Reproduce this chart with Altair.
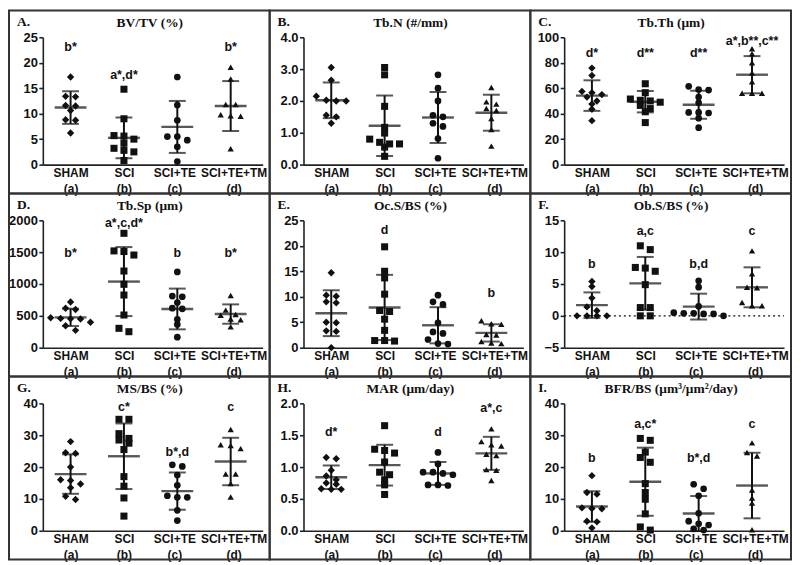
import json
import altair as alt
import pandas as pd

# ---------------- data ----------------
GROUPS = ["SHAM", "SCI", "SCI+TE", "SCI+TE+TM"]
TAGS = ["(a)", "(b)", "(c)", "(d)"]
SHAPES = ["diamond", "square", "circle", "triangle-up"]
SIZES = [55, 40, 42, 70]

# A. BV/TV (%)
A_sham = [17.2, 13.4, 13.3, 11.6, 11.5, 10.6, 8.8, 8.7, 6.2]
A_sci = [14.8, 9.0, 5.7, 5.6, 5.0, 4.2, 3.2, 2.8, 2.5, 0.8]
A_te = [17.2, 11.7, 8.7, 5.5, 5.5, 4.8, 3.5, 0.6]
A_tm = [19.1, 16.8, 11.8, 11.8, 9.8, 9.6, 9.5, 3.1]
A_mean = [11.2, 5.25, 7.4, 11.5]
A_sd = [3.2, 4.0, 5.1, 4.9]
A_sig = ["b*", "a*,d*", "", "b*"]
A_sig_y = [23.0, 17.5, 0, 23.0]

# B. Tb.N (#/mm)
B_sham = [3.05, 2.65, 2.15, 2.02, 2.0, 2.0, 1.55, 1.5, 1.3]
B_sci = [3.05, 2.82, 1.83, 1.17, 0.99, 0.8, 0.7, 0.65, 0.65, 0.55, 0.26]
B_te = [2.82, 2.4, 2.0, 1.55, 1.5, 1.3, 1.2, 0.82, 0.2]
B_tm = [2.42, 1.97, 1.9, 1.76, 1.7, 1.45, 1.1, 0.58]
B_mean = [2.02, 1.22, 1.48, 1.63]
B_sd = [0.56, 0.95, 0.8, 0.565]
B_sig = ["", "", "", ""]
B_sig_y = [0, 0, 0, 0]

# C. Tb.Th (um)
C_sham = [75.8, 70.0, 57.5, 56.5, 55.0, 53.0, 50.0, 47.5, 43.5, 34.5]
C_sci = [63.5, 56.5, 51.5, 50.5, 50.0, 49.0, 46.5, 44.0, 41.5, 33.0]
C_te = [61.5, 59.0, 58.5, 53.0, 48.5, 41.0, 41.0, 40.5, 36.5, 29.0]
C_tm = [91.0, 87.0, 80.0, 72.0, 65.0, 56.0, 56.0, 56.0]
C_mean = [54.2, 49.4, 47.0, 70.6]
C_sd = [12.0, 8.4, 11.0, 14.6]
C_sig = ["d*", "d**", "d**", "a*,b**,c**"]
C_sig_y = [88, 88, 88, 97]

# D. Tb.Sp (um)
D_sham = [717, 620, 600, 470, 460, 455, 450, 400, 345, 272]
D_sci = [1796, 1520, 1510, 1455, 1204, 995, 827, 513, 304, 251]
D_te = [1190, 810, 800, 710, 620, 610, 445, 365, 165]
D_tm = [820, 590, 520, 510, 450, 440, 330]
D_mean = [476, 1038, 608, 528]
D_sd = [136, 542, 320, 152]
D_sig = ["b*", "a*,c,d*", "b", "b*"]
D_sig_y = [1480, 1960, 1480, 1480]

# E. Oc.S/BS (%)
E_sham = [14.7, 10.3, 10.1, 9.0, 8.8, 5.0, 4.9, 3.3, 3.2, 0.0]
E_sci = [19.8, 15.0, 13.7, 10.5, 7.3, 7.1, 5.6, 3.4, 1.4, 1.4, 1.3]
E_te = [10.3, 9.0, 8.5, 4.9, 3.1, 2.8, 1.6, 0.8, 0.7]
E_tm = [5.3, 4.7, 4.6, 2.6, 2.5, 1.2, 0.9, 0.8]
E_mean = [6.77, 7.9, 4.4, 2.9]
E_sd = [4.5, 6.4, 3.55, 1.7]
E_sig = ["", "d", "", "b"]
E_sig_y = [0, 23.1, 0, 10.8]

# F. Ob.S/BS (%)
F_sham = [5.4, 4.6, 2.8, 1.4, 0.8, 0.0, 0.0, 0.0, 0.0]
F_sci = [11.0, 10.4, 7.6, 7.5, 7.0, 4.9, 1.3, 1.3, 0.0, 0.0]
F_te = [5.5, 4.5, 1.5, 0.5, 0.4, 0.4, 0.3, 0.3, 0.0]
F_tm = [10.2, 6.6, 4.5, 4.4, 2.1, 1.6, 1.6]
F_mean = [1.68, 5.1, 1.45, 4.48]
F_sd = [2.0, 4.15, 2.03, 3.14]
F_sig = ["b", "a,c", "b,d", "c"]
F_sig_y = [8.1, 13.3, 8.1, 13.3]

# G. MS/BS (%)
G_sham = [28.0, 24.5, 24.3, 20.0, 16.0, 15.8, 14.7, 13.5, 10.8, 9.8]
G_sci = [35.0, 35.0, 30.5, 29.0, 28.5, 27.5, 25.5, 17.0, 14.0, 10.3, 4.6]
G_te = [20.7, 20.2, 17.5, 14.3, 11.0, 10.5, 10.5, 6.4, 3.2]
G_tm = [31.8, 27.0, 26.8, 25.8, 17.8, 17.8, 14.8, 10.6]
G_mean = [17.8, 23.4, 12.45, 21.75]
G_sd = [6.2, 10.3, 5.85, 7.45]
G_sig = ["", "c*", "b*,d", "c"]
G_sig_y = [0, 39.0, 24.7, 39.0]

# H. MAR (um/day)
H_sham = [1.15, 1.13, 0.95, 0.86, 0.8, 0.75, 0.73, 0.66, 0.65, 0.65]
H_sci = [1.65, 1.28, 1.26, 1.22, 1.08, 0.92, 0.88, 0.8, 0.72, 0.57]
H_te = [1.23, 1.05, 0.92, 0.92, 0.9, 0.88, 0.72, 0.72, 0.71]
H_tm = [1.6, 1.4, 1.35, 1.33, 1.2, 1.18, 0.96, 0.95, 0.79]
H_mean = [0.84, 1.03, 0.9, 1.215]
H_sd = [0.185, 0.32, 0.18, 0.26]
H_sig = ["d*", "", "d", "a*,c"]
H_sig_y = [1.55, 0, 1.55, 1.92]

# I. BFR/BS (um3/um2/day)
I_sham = [17.3, 12.0, 11.5, 7.2, 7.0, 6.9, 3.0, 2.8, 0.9]
I_sci = [29.0, 28.4, 24.7, 23.0, 21.5, 14.8, 12.0, 9.9, 5.3, 1.2, 0.2]
I_te = [14.6, 13.2, 11.0, 5.5, 3.0, 2.2, 1.8, 0.6, 0.2]
I_tm = [27.6, 24.6, 23.5, 12.8, 10.3, 8.7, 0.3]
I_mean = [7.6, 15.4, 5.4, 14.2]
I_sd = [4.8, 10.7, 5.5, 10.3]
I_sig = ["b", "a,c*", "b*,d", "c"]
I_sig_y = [22.8, 33.4, 22.8, 33.4]

PANELS = [
    dict(tag="A.", title="BV/TV (%)", pts=[A_sham, A_sci, A_te, A_tm], mean=A_mean, sd=A_sd,
         sig=A_sig, sig_y=A_sig_y, dom=[0, 25], ticks=[0, 5, 10, 15, 20, 25], fmt="d"),
    dict(tag="B.", title="Tb.N (#/mm)", pts=[B_sham, B_sci, B_te, B_tm], mean=B_mean, sd=B_sd,
         sig=B_sig, sig_y=B_sig_y, dom=[0, 4], ticks=[0, 1, 2, 3, 4], fmt=".1f"),
    dict(tag="C.", title="Tb.Th (μm)", pts=[C_sham, C_sci, C_te, C_tm], mean=C_mean, sd=C_sd,
         sig=C_sig, sig_y=C_sig_y, dom=[0, 100], ticks=[0, 20, 40, 60, 80, 100], fmt="d"),
    dict(tag="D.", title="Tb.Sp (μm)", pts=[D_sham, D_sci, D_te, D_tm], mean=D_mean, sd=D_sd,
         sig=D_sig, sig_y=D_sig_y, dom=[0, 2000], ticks=[0, 500, 1000, 1500, 2000], fmt="d"),
    dict(tag="E.", title="Oc.S/BS (%)", pts=[E_sham, E_sci, E_te, E_tm], mean=E_mean, sd=E_sd,
         sig=E_sig, sig_y=E_sig_y, dom=[0, 25], ticks=[0, 5, 10, 15, 20, 25], fmt="d"),
    dict(tag="F.", title="Ob.S/BS (%)", pts=[F_sham, F_sci, F_te, F_tm], mean=F_mean, sd=F_sd,
         sig=F_sig, sig_y=F_sig_y, dom=[-5, 15], ticks=[-5, 0, 5, 10, 15], fmt="d", zero=True),
    dict(tag="G.", title="MS/BS (%)", pts=[G_sham, G_sci, G_te, G_tm], mean=G_mean, sd=G_sd,
         sig=G_sig, sig_y=G_sig_y, dom=[0, 40], ticks=[0, 10, 20, 30, 40], fmt="d"),
    dict(tag="H.", title="MAR (μm/day)", pts=[H_sham, H_sci, H_te, H_tm], mean=H_mean, sd=H_sd,
         sig=H_sig, sig_y=H_sig_y, dom=[0, 2], ticks=[0, 0.5, 1, 1.5, 2], fmt=".1f"),
    dict(tag="I.", title="BFR/BS (μm³/μm²/day)", pts=[I_sham, I_sci, I_te, I_tm], mean=I_mean, sd=I_sd,
         sig=I_sig, sig_y=I_sig_y, dom=[0, 40], ticks=[0, 10, 20, 30, 40], fmt="d"),
]

# ---------------- layout ----------------
PW, PH = 221, 128
L, R, T, B = 34, 7, 27, 29
XMIN, XMAX = -0.52, 3.6
SANS = "Liberation Sans"
SERIF = "Liberation Serif"
INK = "#111111"
FRAME = "#333333"


def swarm(vals, ppu, gap=5.0, step=10.0):
    """Spread points that share nearly the same value side by side (dot-plot layout)."""
    order = sorted(range(len(vals)), key=lambda i: -vals[i])
    clusters = []
    for i in order:
        if clusters and abs(vals[clusters[-1][0]] - vals[i]) * ppu < gap:
            clusters[-1].append(i)
        else:
            clusters.append([i])
    offs = [0.0] * len(vals)
    for c in clusters:
        n = len(c)
        for k, i in enumerate(c):
            offs[i] = (k - (n - 1) / 2) * step
    return offs


label_expr = (
    f"[{json.dumps(GROUPS)}[round(datum.value)], {json.dumps(TAGS)}[round(datum.value)]]"
)
label_shift = {
    "condition": [
        {"test": "datum.value == 2", "value": -3},
        {"test": "datum.value == 3", "value": 3},
    ],
    "value": 0,
}


def make_panel(p):
    ymin, ymax = p["dom"]
    ppu = PH / (ymax - ymin)
    xpx = PW / (XMAX - XMIN)
    rows = []
    for g, vals in enumerate(p["pts"]):
        for v, o in zip(vals, swarm(vals, ppu)):
            rows.append({"group": GROUPS[g], "x": g + o / xpx, "y": v})
    pts = pd.DataFrame(rows)
    stats = pd.DataFrame({
        "x": list(range(4)),
        "mean": p["mean"],
        "lo": [m - s for m, s in zip(p["mean"], p["sd"])],
        "hi": [m + s for m, s in zip(p["mean"], p["sd"])],
    })
    sig = pd.DataFrame([{"x": g, "y": y, "t": t}
                        for g, (t, y) in enumerate(zip(p["sig"], p["sig_y"])) if t])
    one = pd.DataFrame({"k": [0]})

    xs = alt.Scale(domain=[XMIN, XMAX], nice=False, zero=False)
    ys = alt.Scale(domain=[ymin, ymax], nice=False, zero=False)
    xaxis = alt.Axis(values=[0, 1, 2, 3], labelExpr=label_expr, ticks=False, grid=False,
                     title=None, labelFlush=False, labelOverlap=False, labelPadding=3,
                     labelLineHeight=16, labelBaseline="top", labelFontSize=12,
                     labelOffset=label_shift)
    yaxis = alt.Axis(values=p["ticks"], format=p["fmt"], grid=False, title=None,
                     tickSize=4, labelPadding=1.5, labelFlush=False, labelOverlap=False,
                     labelFontSize=13)

    def X(f):
        return alt.X(f, type="quantitative", scale=xs, axis=xaxis)

    def Y(f):
        return alt.Y(f, type="quantitative", scale=ys, axis=yaxis)

    frame = alt.Chart(one).mark_rect(fillOpacity=0, stroke=FRAME, strokeWidth=2).encode(
        x=alt.value(-L), x2=alt.value(PW + R), y=alt.value(-T), y2=alt.value(PH + B))

    layers = [frame]
    if p.get("zero"):
        layers.append(alt.Chart(one).mark_rule(color=INK, strokeWidth=1.3, strokeDash=[2, 3]).encode(
            x=alt.value(0), x2=alt.value(PW), y=alt.Y(datum=0, scale=ys, axis=yaxis)))

    points = alt.Chart(pts).mark_point(filled=True, opacity=1, color=INK).encode(
        x=X("x"), y=Y("y"),
        shape=alt.Shape("group:N", scale=alt.Scale(domain=GROUPS, range=SHAPES), legend=None),
        size=alt.Size("group:N", scale=alt.Scale(domain=GROUPS, range=SIZES), legend=None),
    )
    bar = alt.Chart(stats).mark_rule(color=INK, strokeWidth=2).encode(
        x=X("x"), y=Y("lo"), y2="hi")
    mean = alt.Chart(stats).mark_tick(orient="horizontal", size=32, thickness=2.4, color=INK).encode(
        x=X("x"), y=Y("mean"))
    cap_lo = alt.Chart(stats).mark_tick(orient="horizontal", size=17, thickness=2, color=INK).encode(
        x=X("x"), y=Y("lo"))
    cap_hi = alt.Chart(stats).mark_tick(orient="horizontal", size=17, thickness=2, color=INK).encode(
        x=X("x"), y=Y("hi"))
    layers += [bar, mean, cap_lo, cap_hi, points]

    if len(sig):
        layers.append(alt.Chart(sig).mark_text(font=SANS, fontWeight="bold", fontSize=12.5,
                                               color=INK, baseline="middle").encode(
            x=X("x"), y=Y("y"), text="t:N"))

    layers.append(alt.Chart(one).mark_text(font=SERIF, fontWeight="bold", fontSize=13.5, color=INK,
                                           align="left", baseline="alphabetic").encode(
        x=alt.value(-26), y=alt.value(-11), text=alt.value(p["tag"])))
    layers.append(alt.Chart(one).mark_text(font=SERIF, fontWeight="bold", fontSize=13.5, color=INK,
                                           align="center", baseline="alphabetic").encode(
        x=alt.value(PW / 2 - 3), y=alt.value(-10), text=alt.value(p["title"])))

    return alt.layer(*layers).properties(width=PW, height=PH)


chart = alt.concat(
    *[make_panel(p) for p in PANELS],
    columns=3,
    spacing={"row": T + B, "column": L + R},
    bounds="flush",
).properties(padding=0).configure_view(stroke=None).configure_axis(
    labelFont=SANS, labelFontWeight="bold", labelColor=INK,
    domainColor="#222222", tickColor="#222222", domainWidth=1.6, tickWidth=1.6,
)

chart.save("out.html", embed_options={"renderer": "svg", "actions": False})
